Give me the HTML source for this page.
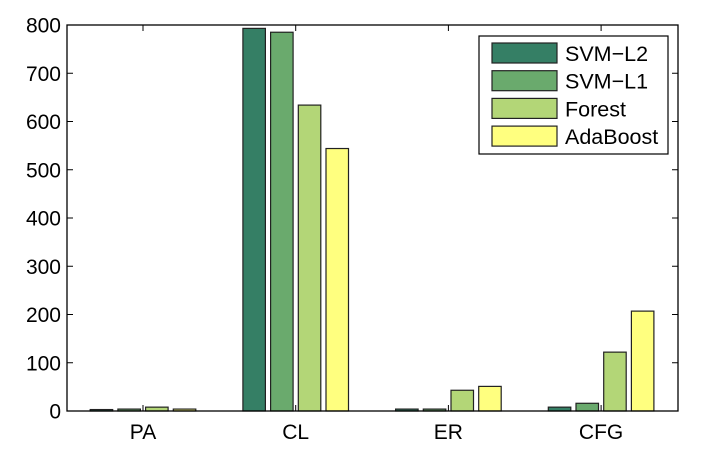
<!DOCTYPE html>
<html><head><meta charset="utf-8"><style>
html,body{margin:0;padding:0;background:#fff;}
svg{display:block;font-family:"Liberation Sans",Arial,sans-serif;}
</style></head><body>
<svg id="chart" width="718" height="458"></svg>
<script>
const categories = ["PA","CL","ER","CFG"];
const seriesNames = ["SVM\u2212L2","SVM\u2212L1","Forest","AdaBoost"];
const svmL2 = [3, 793, 4, 8];
const svmL1 = [4, 785, 4, 16];
const forest = [8, 634, 43, 122];
const adaboost = [4, 544, 51, 207];
const yTicks = [0,100,200,300,400,500,600,700,800];
const colors = ["#357f65","#6aaa6d","#b3d677","#ffff7f"];
const series = [svmL2, svmL1, forest, adaboost];

const NS = "http://www.w3.org/2000/svg";
const svg = document.getElementById("chart");
const L = 67, R = 678, T = 25, B = 411, yMax = 800;
const y = v => B - (v / yMax) * (B - T);
const catX = i => 143 + i * 152.7;
const pitch = 27.7, bw = 22.5;
function mk(tag, attrs, parent){const e=document.createElementNS(NS,tag);for(const k in attrs)e.setAttribute(k,attrs[k]);(parent||svg).appendChild(e);return e;}

const bars = mk("g",{});


series.forEach((vals, s) => {
  vals.forEach((v, i) => {
    const cx = catX(i) + (s - 1.5) * pitch;
    const r = mk("rect",{x:cx-bw/2,y:y(v),width:bw,height:B-y(v),fill:colors[s],stroke:"#222","stroke-width":1.2},bars);
    
    
  });
});

const ax = mk("g",{});


mk("rect",{x:L,y:T,width:R-L,height:B-T,fill:"none",stroke:"#000","stroke-width":1.3},ax);
yTicks.forEach(t => {
  const yy = y(t);
  mk("line",{x1:L,x2:L+6,y1:yy,y2:yy,stroke:"#000"},ax);
  mk("line",{x1:R,x2:R-6,y1:yy,y2:yy,stroke:"#000"},ax);
  const tx = mk("text",{x:L-6,y:yy+7.5,"text-anchor":"end","font-size":21,fill:"#000"},ax);
  tx.textContent = t;
  
  
});
categories.forEach((c,i) => {
  const xx = catX(i);
  mk("line",{x1:xx,x2:xx,y1:B,y2:B-6,stroke:"#000"},ax);
  mk("line",{x1:xx,x2:xx,y1:T,y2:T+6,stroke:"#000"},ax);
  const tx = mk("text",{x:xx,y:B+28,"text-anchor":"middle","font-size":21,fill:"#000"},ax);
  tx.textContent = c;
  
  
});

const lg = mk("g",{});


mk("rect",{x:479,y:36,width:189,height:118,fill:"#fff",stroke:"#000","stroke-width":1.2},lg);
seriesNames.forEach((n,s) => {
  const cy = 53 + s*27.7;
  const e = mk("g",{},lg);
  
  
  mk("rect",{x:492,y:cy-10,width:65,height:20,fill:colors[s],stroke:"#222","stroke-width":1.2},e);
  const tx = mk("text",{x:565,y:cy+8,"font-size":21.5,fill:"#000"},e);
  tx.textContent = n;
});
</script>
</body></html>
